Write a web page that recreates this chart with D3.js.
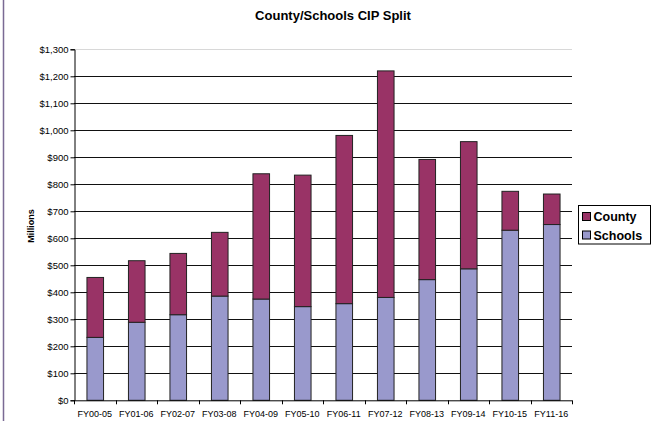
<!DOCTYPE html>
<html><head><meta charset="utf-8">
<script src="https://cdn.jsdelivr.net/npm/d3@7/dist/d3.min.js"></script>
<style>body{margin:0;background:#fff}svg{display:block;font-family:Arial,"Liberation Sans",sans-serif}</style>
</head><body>
<script>
const categories = ["FY00-05","FY01-06","FY02-07","FY03-08","FY04-09","FY05-10","FY06-11","FY07-12","FY08-13","FY09-14","FY10-15","FY11-16"];
const schools = [233, 289, 317, 386, 375, 347, 358, 381, 447, 487, 630, 651];
const county  = [222, 228, 227, 236, 464, 487, 623, 839, 445, 471, 144, 113];
const yTicks = [0,100,200,300,400,500,600,700,800,900,1000,1100,1200,1300];
const seriesNames = ["County","Schools"];
const colors = {County:"#993366", Schools:"#9999CC"};

const W=662,H=421;
const svg=d3.select("body").append("svg").attr("width",W).attr("height",H);
svg.append("line").attr("x1",3.5).attr("x2",3.5).attr("y1",0).attr("y2",H).attr("stroke","#7a6a94").attr("stroke-width",1.5);

const pLeft=74, pRight=572, pTop=49.3, pBottom=400.3;
const x=d3.scaleBand().domain(categories).range([pLeft,pRight]).paddingInner(0.6).paddingOuter(0.3);
const y=d3.scaleLinear().domain([0,1300]).range([pBottom,pTop]);

// gridlines
svg.append("g").selectAll("line").data(yTicks.filter(d=>d>0)).join("line")
  .attr("x1",pLeft).attr("x2",pRight).attr("y1",d=>Math.round(y(d))+0.5).attr("y2",d=>Math.round(y(d))+0.5)
  .attr("stroke",d=>d===1300?"#d8d8d8":"#111").attr("stroke-width",1);

// y axis
const fmt=d=>"$"+d3.format(",")(d);
const ya=svg.append("g").attr("transform",`translate(${pLeft+0.5},0)`)
  .call(d3.axisLeft(y).tickValues(yTicks).tickFormat(fmt).tickSize(4).tickPadding(2));
ya.select(".domain").attr("stroke","#000");
ya.selectAll(".tick line").attr("stroke","#000");
ya.selectAll("text").attr("font-size","9.5px").attr("fill","#000").attr("font-family","Arial,'Liberation Sans',sans-serif");

// stacked bars
const data=categories.map((c,i)=>({cat:c,Schools:schools[i],County:county[i]}));
const stack=d3.stack().keys(["Schools","County"])(data);
const g=svg.append("g");
stack.forEach(layer=>{
  g.selectAll(null).data(layer).join("rect")
    .attr("x",d=>x(d.data.cat)+0.5).attr("width",x.bandwidth())
    .attr("y",d=>y(d[1])).attr("height",d=>y(d[0])-y(d[1]))
    .attr("fill",colors[layer.key]).attr("stroke","#222").attr("stroke-width",1);
});

// x axis
svg.append("line").attr("x1",pLeft).attr("x2",pRight).attr("y1",pBottom+0.5).attr("y2",pBottom+0.5).attr("stroke","#000");
const tickXs=d3.range(categories.length+1).map(i=>pLeft+i*(pRight-pLeft)/categories.length);
svg.append("g").selectAll("line").data(tickXs).join("line")
  .attr("x1",d=>Math.round(d)+0.5).attr("x2",d=>Math.round(d)+0.5).attr("y1",pBottom).attr("y2",pBottom+4).attr("stroke","#000");
svg.append("g").selectAll("text").data(categories).join("text")
  .attr("x",d=>x(d)+x.bandwidth()/2).attr("y",417).attr("text-anchor","middle")
  .attr("font-size","9px").attr("fill","#000").text(d=>d);

// title
svg.append("text").attr("x",333).attr("y",20).attr("text-anchor","middle")
  .attr("font-size","13px").attr("font-weight","bold").text("County/Schools CIP Split");
// y label
svg.append("text").attr("transform","translate(33.5,226) rotate(-90)").attr("text-anchor","middle")
  .attr("font-size","9px").attr("font-weight","bold").text("Millions");

// legend
const lg=svg.append("g");
lg.append("rect").attr("x",578.5).attr("y",205.5).attr("width",72).attr("height",38.5).attr("fill","#fff").attr("stroke","#000");
seriesNames.forEach((n,i)=>{
  lg.append("rect").attr("x",582.5).attr("y",212.5+i*18.5).attr("width",8).attr("height",8)
    .attr("fill",colors[n]).attr("stroke","#000");
  lg.append("text").attr("x",593.5).attr("y",221+i*18.5).attr("font-size","12.5px").attr("font-weight","bold").text(n);
});
</script>
</body></html>
